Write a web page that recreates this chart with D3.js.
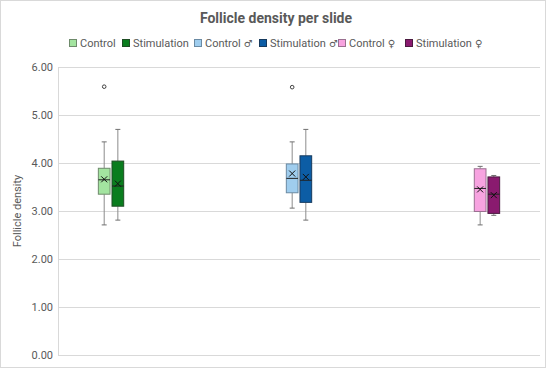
<!DOCTYPE html>
<html>
<head>
<meta charset="utf-8">
<script src="https://cdn.jsdelivr.net/npm/d3@7"></script>
<style>
  body { margin: 0; background: #fff; }
  text { font-family: Roboto, "Liberation Sans", sans-serif; fill: #595959; }
</style>
</head>
<body>
<div class="boundary"></div>
<script>
// chart values
var categories = ["A", "B", "C"];
var seriesNames = ["Control", "Stimulation", "Control \u2642", "Stimulation \u2642", "Control \u2640", "Stimulation \u2640"];
var seriesCategory = ["A", "A", "B", "B", "C", "C"];
var minValues    = [2.71, 2.81, 3.06, 2.81, 2.71, 2.91];
var q1Values     = [3.35, 3.10, 3.38, 3.18, 2.99, 2.95];
var medianValues = [3.65, 3.52, 3.68, 3.64, 3.47, 3.35];
var q3Values     = [3.89, 4.04, 3.98, 4.15, 3.88, 3.71];
var maxValues    = [4.44, 4.70, 4.44, 4.70, 3.93, 3.74];
var meanValues   = [3.66, 3.57, 3.78, 3.71, 3.45, 3.33];
var outliers     = [[5.59], [], [5.58], [], [], []];
var yTicks = [0, 1, 2, 3, 4, 5, 6];

var fills   = ["#a3e4a0", "#0a7d1e", "#9fcdee", "#0c5da5", "#f7a3e0", "#8a1a6f"];
var strokes = ["#6e8a6b", "#1f4d24", "#6a8aa3", "#163a5e", "#9a7090", "#4b1a40"];

var width = 550, height = 373;
var svg = d3.select(".boundary").append("svg")
            .attr("width", width).attr("height", height);

svg.append("rect").attr("x", 0.5).attr("y", 0.5).attr("width", 545).attr("height", 367)
   .attr("fill", "#fff").attr("stroke", "#d9d9d9");

var plotLeft = 58, plotRight = 540, plotTop = 67, plotBottom = 355;

var y = d3.scaleLinear().domain([0, 6]).range([plotBottom, plotTop]);
var x = d3.scaleBand().domain(categories).range([plotLeft, plotRight]);
var inner = d3.scaleBand().domain(seriesNames)
              .range([x.bandwidth() * 0.248, x.bandwidth() * 0.752]).paddingInner(0.07);

// gridlines
svg.append("g").selectAll("line").data(yTicks).enter().append("line")
   .attr("x1", plotLeft).attr("x2", plotRight)
   .attr("y1", function(d){ return Math.round(y(d)) + 0.5; })
   .attr("y2", function(d){ return Math.round(y(d)) + 0.5; })
   .attr("stroke", "#d9d9d9");
svg.append("line").attr("x1", plotLeft + 0.5).attr("x2", plotLeft + 0.5)
   .attr("y1", plotTop).attr("y2", plotBottom).attr("stroke", "#d9d9d9");

// y axis labels
var yAxis = d3.axisLeft(y).tickValues(yTicks).tickFormat(d3.format(".2f")).tickSize(0).tickPadding(5);
var ag = svg.append("g").attr("transform", "translate(" + plotLeft + ",0)").call(yAxis);
ag.select(".domain").remove();
ag.selectAll("text").style("font-size", "11px").attr("fill", "#595959")
  .style("font-family", "Roboto, 'Liberation Sans', sans-serif");

svg.append("text").attr("transform", "translate(21," + y(3) + ") rotate(-90)")
   .attr("text-anchor", "middle").style("font-size", "11px").text("Follicle density");

svg.append("text").attr("x", 276).attr("y", 23).attr("text-anchor", "middle")
   .style("font-size", "14px").style("font-weight", "bold").text("Follicle density per slide");

// boxes
var data = seriesNames.map(function(s, i){
  return {name: s, cat: seriesCategory[i], min: minValues[i], q1: q1Values[i], med: medianValues[i],
          q3: q3Values[i], max: maxValues[i], mean: meanValues[i], out: outliers[i], i: i};
});

var boxes = svg.append("g").selectAll("g").data(data).enter().append("g")
   .attr("transform", function(d){ return "translate(" + (x(d.cat) + inner(d.name)) + ",0)"; });
var bw = inner.bandwidth();
var cx = bw / 2;

boxes.append("line").attr("x1", cx).attr("x2", cx)
     .attr("y1", function(d){ return y(d.max); }).attr("y2", function(d){ return y(d.q3); })
     .attr("stroke", "#8c8c8c");
boxes.append("line").attr("x1", cx).attr("x2", cx)
     .attr("y1", function(d){ return y(d.q1); }).attr("y2", function(d){ return y(d.min); })
     .attr("stroke", "#8c8c8c");
boxes.append("line").attr("x1", cx - 2.5).attr("x2", cx + 2.5)
     .attr("y1", function(d){ return y(d.max); }).attr("y2", function(d){ return y(d.max); })
     .attr("stroke", "#6f6f6f");
boxes.append("line").attr("x1", cx - 2.5).attr("x2", cx + 2.5)
     .attr("y1", function(d){ return y(d.min); }).attr("y2", function(d){ return y(d.min); })
     .attr("stroke", "#6f6f6f");
boxes.append("rect").attr("x", 0.5).attr("width", bw - 1)
     .attr("y", function(d){ return y(d.q3); })
     .attr("height", function(d){ return y(d.q1) - y(d.q3); })
     .attr("fill", function(d){ return fills[d.i]; })
     .attr("stroke", function(d){ return strokes[d.i]; });
boxes.append("line").attr("x1", 0.5).attr("x2", bw - 0.5)
     .attr("y1", function(d){ return y(d.med); }).attr("y2", function(d){ return y(d.med); })
     .attr("stroke", "#222");
boxes.append("path")
     .attr("d", function(d){ var m = y(d.mean);
        return "M" + (cx - 3) + "," + (m - 3) + "L" + (cx + 3) + "," + (m + 3) +
               "M" + (cx + 3) + "," + (m - 3) + "L" + (cx - 3) + "," + (m + 3); })
     .attr("stroke", "#111").attr("stroke-width", 1);
boxes.selectAll("circle").data(function(d){ return d.out; }).enter().append("circle")
     .attr("cx", cx).attr("cy", function(v){ return y(v); }).attr("r", 1.8)
     .attr("fill", "#fff").attr("stroke", "#404040");

// legend
var legendX = [69, 122, 194, 259, 338, 405];
var legend = svg.append("g").selectAll("g").data(seriesNames).enter().append("g")
   .attr("transform", function(d, i){ return "translate(" + legendX[i] + ",39)"; });
legend.append("rect").attr("x", 0.5).attr("y", 0.5).attr("width", 7).attr("height", 7)
   .attr("fill", function(d, i){ return fills[i]; })
   .attr("stroke", function(d, i){ return strokes[i]; });
var lt = legend.append("text").attr("x", 11).attr("y", 8).style("font-size", "11px");
lt.append("tspan").text(function(d){ return d.split(" ")[0]; });
lt.append("tspan").style("font-family", "'DejaVu Sans', sans-serif").style("font-size", "10px")
  .text(function(d){ var p = d.split(" "); return p.length > 1 ? " " + p[1] : ""; });
</script>
</body>
</html>
